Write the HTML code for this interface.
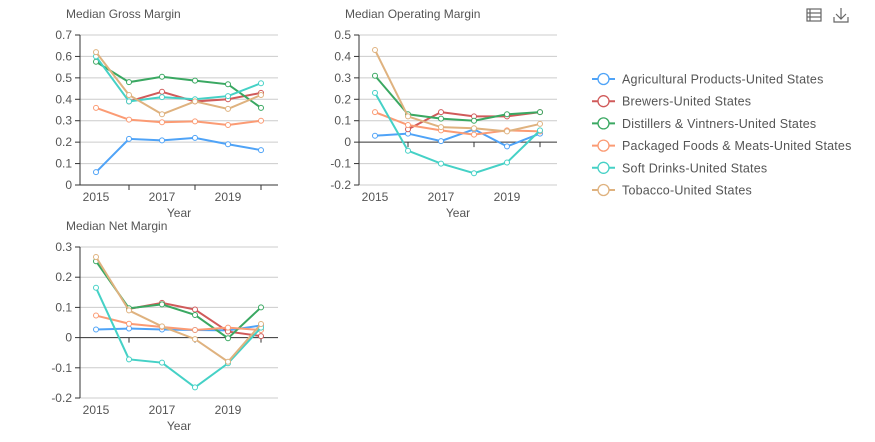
<!DOCTYPE html>
<html><head><meta charset="utf-8">
<style>
body{margin:0;background:#fff;font-family:"Liberation Sans",sans-serif;}
svg{display:block}
text{font-family:"Liberation Sans",sans-serif;fill:#555}
</style></head>
<body>
<svg id="c" width="875" height="442" viewBox="0 0 875 442" xmlns="http://www.w3.org/2000/svg">
<g>
<g stroke="#666" fill="none" stroke-width="1.2">
<rect x="807" y="9" width="14" height="12"/><line x1="807" y1="13" x2="821" y2="13"/><line x1="807" y1="17" x2="821" y2="17"/><line x1="810" y1="9" x2="810" y2="21"/>
</g>
<g stroke="#666" fill="none" stroke-width="1.2">
<path d="M841 8 V19 M836 14 L841 19 L846 14 M834 17 V22 H848 V17"/>
</g>
</g>
</svg>
<script>
const years=["2015","2016","2017","2018","2019","2020"];
const seriesNames=["Agricultural Products-United States","Brewers-United States","Distillers & Vintners-United States","Packaged Foods & Meats-United States","Soft Drinks-United States","Tobacco-United States"];
const colors=["#4fa3f7","#d05a5a","#3aa862","#fb9b74","#45d1c6","#dfb27f"];
const grossAg=[0.06,0.215,0.208,0.22,0.19,0.163];
const grossBrew=[null,0.39,0.435,0.39,0.40,0.43];
const grossDist=[0.575,0.48,0.505,0.487,0.47,0.36];
const grossPack=[0.36,0.305,0.293,0.297,0.28,0.30];
const grossSoft=[0.60,0.39,0.41,0.40,0.415,0.475];
const grossTob=[0.62,0.42,0.33,0.39,0.355,0.42];
const opAg=[0.03,0.04,0.005,0.06,-0.02,0.04];
const opBrew=[null,0.06,0.14,0.12,0.12,0.14];
const opDist=[0.31,0.13,0.11,0.10,0.13,0.14];
const opPack=[0.14,0.08,0.055,0.035,0.055,0.05];
const opSoft=[0.23,-0.04,-0.10,-0.145,-0.095,0.055];
const opTob=[0.43,0.12,0.07,0.065,0.05,0.085];
const netAg=[0.027,0.03,0.027,0.025,0.024,0.04];
const netBrew=[null,0.095,0.115,0.093,0.02,0.005];
const netDist=[0.253,0.097,0.11,0.075,-0.002,0.10];
const netPack=[0.073,0.046,0.035,0.025,0.033,0.025];
const netSoft=[0.165,-0.072,-0.083,-0.165,-0.085,0.033];
const netTob=[0.267,0.09,0.037,-0.005,-0.08,0.045];
const grossTicks=[0,0.1,0.2,0.3,0.4,0.5,0.6,0.7];
const opTicks=[-0.2,-0.1,0,0.1,0.2,0.3,0.4,0.5];
const netTicks=[-0.2,-0.1,0,0.1,0.2,0.3];

const NS="http://www.w3.org/2000/svg";
const svg=document.getElementById('c');
function mk(tag,attrs,parent){const e=document.createElementNS(NS,tag);for(const k in attrs)e.setAttribute(k,attrs[k]);(parent||svg).appendChild(e);return e;}

function chart(cfg){
  const g=mk('g',{});
  
  
  const min=cfg.ticks[0],max=cfg.ticks[cfg.ticks.length-1];
  const y=v=>cfg.y0+(max-v)/(max-min)*(cfg.y1-cfg.y0);
  const x=i=>cfg.x0+16+i*33;
  const t=mk('text',{x:cfg.x0-14,y:cfg.y0-17,'font-size':12,fill:'#333'},g);t.textContent=cfg.title;
  
  cfg.ticks.forEach(v=>{
    if(v!==0){const l=mk('line',{x1:cfg.x0,x2:cfg.x0+198,y1:y(v),y2:y(v),stroke:'#ccc'},g);
      }
    const tx=mk('text',{x:cfg.x0-8,y:y(v)+4,'font-size':12,'text-anchor':'end'},g);
    tx.textContent=String(v);
    
    mk('line',{x1:cfg.x0-5,x2:cfg.x0,y1:y(v),y2:y(v),stroke:'#333'},g);
  });
  const ya=mk('line',{x1:cfg.x0,x2:cfg.x0,y1:cfg.y0,y2:cfg.y1,stroke:'#333'},g);
  
  const xa=mk('line',{x1:cfg.x0,x2:cfg.x0+198,y1:y(0),y2:y(0),stroke:'#333'},g);
  
  years.forEach((yr,i)=>{
    if(i%2===1)mk('line',{x1:x(i),x2:x(i),y1:y(0),y2:y(0)+5,stroke:'#333'},g);
    if(i%2===0){const tx=mk('text',{x:x(i),y:cfg.y1+16,'font-size':12,'text-anchor':'middle'},g);tx.textContent=yr;
      }
  });
  const xt=mk('text',{x:cfg.x0+99,y:cfg.y1+32,'font-size':12,'text-anchor':'middle'},g);xt.textContent='Year';
  
  cfg.series.forEach((s,si)=>{
    let d='';let started=false;
    s.forEach((v,i)=>{if(v===null){started=false;return;}d+=(started?'L':'M')+x(i)+' '+y(v)+' ';started=true;});
    const p=mk('path',{d:d,fill:'none',stroke:colors[si],'stroke-width':2},g);
    
    s.forEach((v,i)=>{if(v===null)return;
      const c=mk('circle',{cx:x(i),cy:y(v),r:2.5,fill:'#fff',stroke:colors[si],'stroke-width':1},g);
      });
  });
}
chart({name:'gross-margin-chart',title:'Median Gross Margin',x0:80,y0:35,y1:185,ticks:grossTicks,series:[grossAg,grossBrew,grossDist,grossPack,grossSoft,grossTob]});
chart({name:'operating-margin-chart',title:'Median Operating Margin',x0:359,y0:35,y1:185,ticks:opTicks,series:[opAg,opBrew,opDist,opPack,opSoft,opTob]});
chart({name:'net-margin-chart',title:'Median Net Margin',x0:80,y0:247,y1:398,ticks:netTicks,series:[netAg,netBrew,netDist,netPack,netSoft,netTob]});

const lg=mk('g',{});


seriesNames.forEach((n,i)=>{
  const yy=79+i*22.2;
  const e=mk('g',{},lg);
  
  
  mk('line',{x1:592,x2:615,y1:yy,y2:yy,stroke:colors[i],'stroke-width':2},e);
  mk('circle',{cx:603.5,cy:yy,r:5.5,fill:'#fff',stroke:colors[i],'stroke-width':1.3},e);
  const t=mk('text',{x:622,y:yy+4.5,'font-size':12.5,'letter-spacing':'0.2'},e);t.textContent=n;
});
</script>
</body></html>
